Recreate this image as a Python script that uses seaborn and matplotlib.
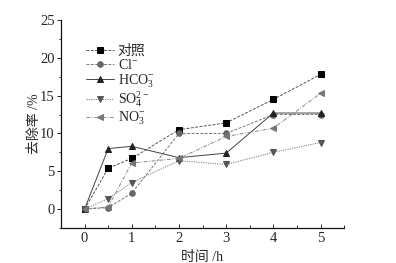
import matplotlib
matplotlib.use("Agg")
import matplotlib.pyplot as plt
import seaborn as sns
import pandas as pd
from matplotlib.ticker import MultipleLocator

sns.set_style("ticks")
plt.rcParams['font.family'] = ['Liberation Serif', 'Noto Sans CJK SC']
plt.rcParams['mathtext.fontset'] = 'custom'
plt.rcParams['mathtext.rm'] = 'Liberation Serif'
plt.rcParams['mathtext.it'] = 'Liberation Serif'

time_h = [0, 0.5, 1, 2, 3, 4, 5]
control = [0, 5.4, 6.7, 10.5, 11.4, 14.5, 17.8]
cl = [0, 0.2, 2.1, 10.0, 10.0, 12.5, 12.5]
hco3 = [0, 8.0, 8.3, 6.8, 7.4, 12.7, 12.7]
so4 = [0, 1.4, 3.5, 6.4, 5.9, 7.5, 8.8]
no3 = [0, 0.3, 6.1, 6.7, 9.6, 10.7, 15.3]

labels = ['对照', r'Cl$^{-}$', r'HCO$_{3}^{-}$', r'SO$_{4}^{2-}$', r'NO$_{3}^{-}$']
series = [control, cl, hco3, so4, no3]
markers = ['s', 'o', '^', 'v', '<']
line_colors = ['#555555', '#777777', '#444444', '#777777', '#888888']
marker_colors = ['#000000', '#666666', '#222222', '#555555', '#777777']
linestyles = [(0, (3, 1.5)), (0, (3, 1.5)), '-', (0, (1.2, 1.2)), (0, (4, 1.5, 1, 1.5))]

fig = plt.figure(figsize=(3.96, 2.63), dpi=100)
ax = fig.add_axes([0.154, 0.133, 0.715, 0.791])

for lab, ys, m, lc, mc, ls in zip(labels, series, markers, line_colors, marker_colors, linestyles):
    df = pd.DataFrame({'t': time_h, 'v': ys})
    sns.lineplot(data=df, x='t', y='v', ax=ax, color=lc, linewidth=0.7,
                 linestyle=ls, marker=m, markersize=4, markerfacecolor=mc,
                 markeredgecolor=mc, label=lab)

ax.set_xlim(-0.5, 5.5)
ax.set_ylim(-2.5, 25)
ax.set_xticks([0, 1, 2, 3, 4, 5])
ax.set_yticks([0, 5, 10, 15, 20, 25])
ax.xaxis.set_minor_locator(MultipleLocator(0.5))
ax.yaxis.set_minor_locator(MultipleLocator(2.5))
ax.tick_params(axis='x', which='both', direction='in', labelsize=10.5, pad=3, length=3, width=0.7)
ax.tick_params(axis='x', which='minor', length=2)
ax.tick_params(axis='y', which='both', direction='out', labelsize=10.5, pad=1.5, length=3, width=0.7)
ax.tick_params(axis='y', which='minor', length=1.5)
sns.despine(ax=ax)
for s in ['left', 'bottom']:
    ax.spines[s].set_linewidth(0.9)
    ax.spines[s].set_color('#111111')

ax.set_xlabel('时间 /h', fontsize=10, labelpad=4)
ax.set_ylabel('去除率 /%', fontsize=10, labelpad=-1)

leg = ax.legend(loc='upper left', bbox_to_anchor=(0.058, 0.92), frameon=False,
                fontsize=10, handlelength=2.0, handletextpad=0.3, labelspacing=0.0,
                borderaxespad=0.2)

fig.savefig('out.png', dpi=100)
